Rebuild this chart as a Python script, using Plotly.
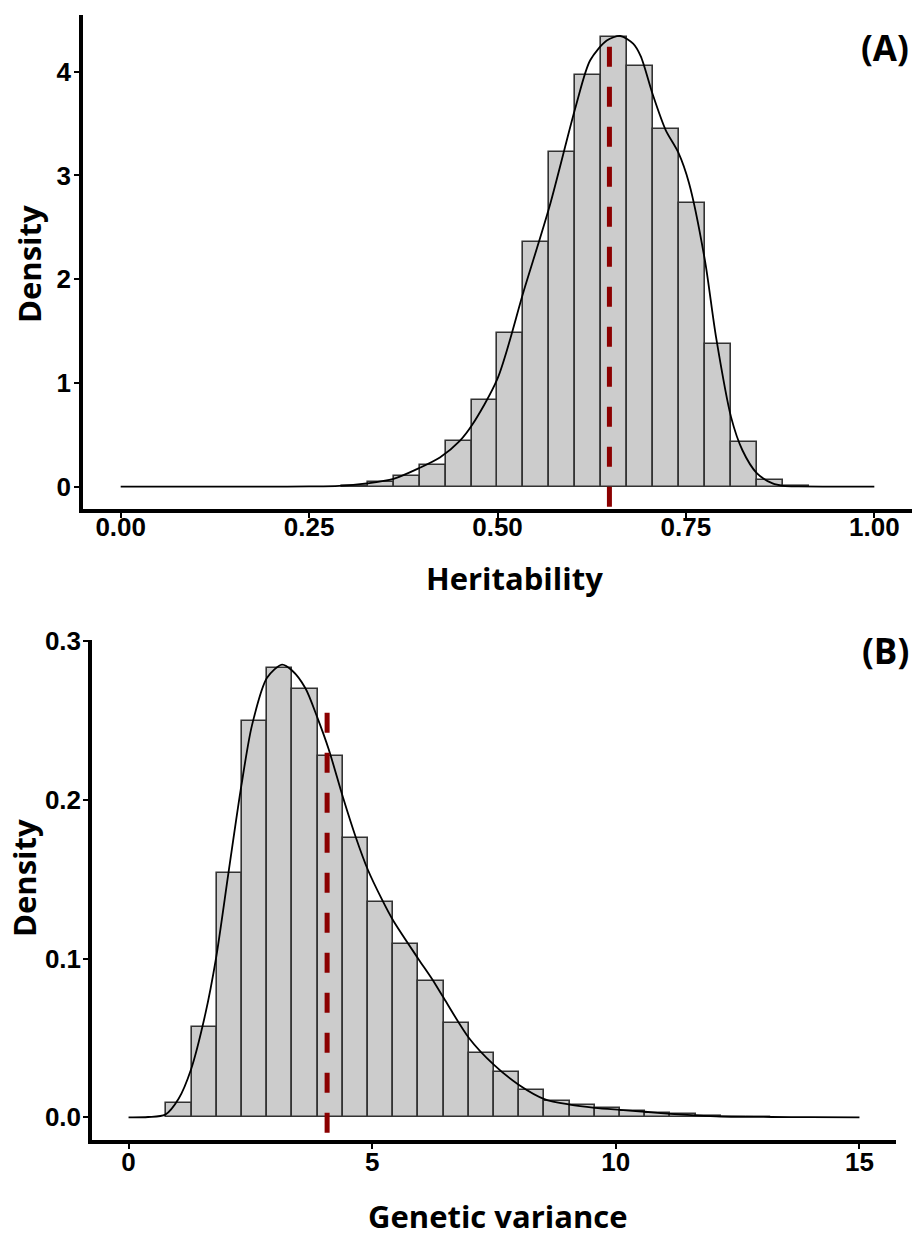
import plotly.graph_objects as go

# ---------------- data: panel A (Heritability) ----------------
herit_bin_centers = [0.3103, 0.3448, 0.3793, 0.4138, 0.4483, 0.4828, 0.5172, 0.5517,
                     0.5862, 0.6207, 0.6552, 0.6897, 0.7241, 0.7586, 0.7931, 0.8276,
                     0.8621, 0.8966]
herit_density = [0.010, 0.048, 0.104, 0.211, 0.444, 0.833, 1.478, 2.359,
                 3.222, 3.970, 4.333, 4.052, 3.444, 2.733, 1.370, 0.433,
                 0.067, 0.004]
herit_kde_x = [0.0, 0.10, 0.20, 0.25, 0.29, 0.3265, 0.362, 0.396, 0.4236, 0.45, 0.466,
               0.50, 0.535, 0.569, 0.604, 0.623, 0.645, 0.663, 0.68, 0.69, 0.706,
               0.723, 0.740, 0.754, 0.775, 0.79, 0.81, 0.825, 0.844, 0.865, 0.879,
               0.90, 0.95, 1.0]
herit_kde_y = [0.0, 0.0, 0.0, 0.001, 0.006, 0.03, 0.074, 0.178, 0.28, 0.44, 0.59,
               1.04, 1.89, 2.70, 3.67, 4.11, 4.30, 4.344, 4.27, 4.15, 3.78,
               3.44, 3.22, 2.93, 2.19, 1.44, 0.667, 0.35, 0.13, 0.03, 0.007,
               0.001, 0.0, 0.0]
herit_mean = 0.6485
herit_x_ticks = [0.0, 0.25, 0.5, 0.75, 1.0]
herit_x_ticktext = ["0.00", "0.25", "0.50", "0.75", "1.00"]
herit_y_ticks = [0, 1, 2, 3, 4]
herit_y_ticktext = ["0", "1", "2", "3", "4"]

# ---------------- data: panel B (Genetic variance) ----------------
gv_bin_centers = [1.0345, 1.5517, 2.0690, 2.5862, 3.1034, 3.6207, 4.1379, 4.6552,
                  5.1724, 5.6897, 6.2069, 6.7241, 7.2414, 7.7586, 8.2759, 8.7931,
                  9.3103, 9.8276, 10.3448, 10.8621, 11.3793, 11.8966, 12.4138, 12.9310]
gv_density = [0.0092, 0.0572, 0.154, 0.2498, 0.2831, 0.2697, 0.2274, 0.1761,
              0.1358, 0.1095, 0.0856, 0.0592, 0.0403, 0.0286, 0.0174, 0.0100,
              0.0075, 0.0060, 0.0042, 0.0030, 0.0020, 0.0010, 0.0005, 0.0003]
gv_kde_x = [0.0, 0.4, 0.754, 1.027, 1.28, 1.575, 1.794, 2.055, 2.315, 2.533, 2.842,
            3.150, 3.356, 3.630, 3.877, 4.109, 4.397, 4.658, 4.911, 5.205, 5.431,
            5.944, 6.232, 6.472, 6.986, 7.5, 8.013, 8.533, 9.055, 9.568, 10.09,
            10.60, 11.12, 11.64, 12.16, 13.2, 14.0, 15.0]
gv_kde_y = [0.0, 0.0002, 0.0017, 0.0117, 0.030, 0.065, 0.100, 0.155, 0.209, 0.247, 0.277,
            0.2853, 0.2816, 0.2704, 0.2517, 0.2318, 0.202, 0.177, 0.156, 0.137, 0.124,
            0.100, 0.087, 0.075, 0.050, 0.033, 0.0204, 0.0115, 0.008, 0.006, 0.0047,
            0.0035, 0.0022, 0.0012, 0.0005, 0.0002, 0.0001, 0.0]
gv_mean = 4.075
gv_x_ticks = [0, 5, 10, 15]
gv_x_ticktext = ["0", "5", "10", "15"]
gv_y_ticks = [0.0, 0.1, 0.2, 0.3]
gv_y_ticktext = ["0.0", "0.1", "0.2", "0.3"]

# ---------------- styling ----------------
W, H = 914, 1239
BAR_FILL = "#CCCCCC"
BAR_EDGE = "#333333"
MEAN_COL = "#8B0000"
TICK_FONT = dict(family="Liberation Sans", size=26, color="black", weight="bold")
TITLE_FONT = dict(family="Open Sans", size=31, color="black", weight="bold")
PANEL_FONT = dict(family="Open Sans", size=35, color="black", weight="bold")

def px_x(p):
    return p / W

def px_y(p):
    return 1 - p / H

fig = go.Figure()

# Panel A
fig.add_trace(go.Bar(x=herit_bin_centers, y=herit_density, width=1 / 29,
                     marker=dict(color=BAR_FILL, line=dict(color=BAR_EDGE, width=1.6)),
                     xaxis="x", yaxis="y", showlegend=False))
fig.add_trace(go.Scatter(x=herit_kde_x, y=herit_kde_y, mode="lines",
                         line=dict(color="black", width=1.8, shape="spline", smoothing=0.8),
                         xaxis="x", yaxis="y", showlegend=False))
# Panel B
fig.add_trace(go.Bar(x=gv_bin_centers, y=gv_density, width=15 / 29,
                     marker=dict(color=BAR_FILL, line=dict(color=BAR_EDGE, width=1.6)),
                     xaxis="x2", yaxis="y2", showlegend=False))
fig.add_trace(go.Scatter(x=gv_kde_x, y=gv_kde_y, mode="lines",
                         line=dict(color="black", width=1.8, shape="spline", smoothing=0.8),
                         xaxis="x2", yaxis="y2", showlegend=False))

yA_range = [-0.2165, 4.5465]
yB_range = [-0.0143, 0.3008]

# mean lines
fig.add_shape(type="line", xref="x", yref="y", x0=herit_mean, x1=herit_mean,
              y0=4.24, y1=yA_range[0],
              line=dict(color=MEAN_COL, width=5, dash="20px,20px"), layer="above")
fig.add_shape(type="line", xref="x2", yref="y2", x0=gv_mean, x1=gv_mean,
              y0=0.255, y1=yB_range[0],
              line=dict(color=MEAN_COL, width=5, dash="20px,20px"), layer="above")

axis_common = dict(showgrid=False, zeroline=False, showline=True, linecolor="black",
                   linewidth=3.5, ticks="outside", ticklen=5, tickwidth=1.5,
                   tickcolor="black", tickfont=TICK_FONT, fixedrange=True,
                   automargin=False)

fig.update_layout(
    width=W, height=H, autosize=False,
    margin=dict(l=0, r=0, t=0, b=0, pad=0, autoexpand=False),
    paper_bgcolor="white", plot_bgcolor="white",
    bargap=0,
    xaxis=dict(domain=[px_x(83), px_x(912)], range=[-0.05, 1.05], anchor="y",
               tickmode="array", tickvals=herit_x_ticks, ticktext=herit_x_ticktext,
               ticklabelstandoff=-13, **axis_common),
    yaxis=dict(domain=[px_y(509), px_y(15)], range=yA_range, anchor="x",
               tickmode="array", tickvals=herit_y_ticks, ticktext=herit_y_ticktext,
               ticklabelstandoff=-2, **axis_common),
    xaxis2=dict(domain=[px_x(92), px_x(896)], range=[-0.75, 15.75], anchor="y2",
                tickmode="array", tickvals=gv_x_ticks, ticktext=gv_x_ticktext,
                ticklabelstandoff=-9, **axis_common),
    yaxis2=dict(domain=[px_y(1140), px_y(640)], range=yB_range, anchor="x2",
                tickmode="array", tickvals=gv_y_ticks, ticktext=gv_y_ticktext,
                ticklabelstandoff=-3, **axis_common),
)

annotations = [
    dict(text="Density", x=px_x(29), y=px_y(264), textangle=-90, font=TITLE_FONT,
         yanchor="middle"),
    dict(text="Heritability", x=px_x(514), y=px_y(578), font=TITLE_FONT, yanchor="middle"),
    dict(text="(A)", x=px_x(885), y=px_y(48), font=PANEL_FONT, yanchor="middle"),
    dict(text="Density", x=px_x(24), y=px_y(878), textangle=-90, font=TITLE_FONT,
         yanchor="middle"),
    dict(text="Genetic variance", x=px_x(498), y=0, font=TITLE_FONT, yanchor="bottom"),
    dict(text="(B)", x=px_x(885), y=px_y(650), font=PANEL_FONT, yanchor="middle"),
]
for a in annotations:
    fig.add_annotation(xref="paper", yref="paper", showarrow=False,
                       xanchor="center", **a)

fig.write_html("out.html")
